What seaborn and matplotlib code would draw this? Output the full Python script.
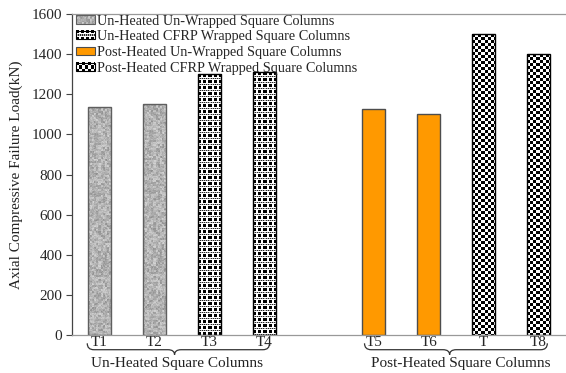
import matplotlib
matplotlib.use("Agg")
import matplotlib.pyplot as plt
import matplotlib.transforms as mtransforms
from matplotlib.patches import Patch, PathPatch, Rectangle
from matplotlib.path import Path
from matplotlib.legend_handler import HandlerBase
from matplotlib.image import BboxImage
import numpy as np
import pandas as pd
import seaborn as sns

# ---- data -------------------------------------------------------------
specimens = ["T1", "T2", "T3", "T4", "T5", "T6", "T7", "T8"]
tick_labels = ["T1", "T2", "T3", "T4", "", "T5", "T6", "T", "T8"]
loads_kn = [1135, 1150, 1300, 1310, 1125, 1100, 1500, 1400]
series_names = [
    "Un-Heated Un-Wrapped Square Columns",
    "Un-Heated CFRP Wrapped Square Columns",
    "Post-Heated Un-Wrapped Square Columns",
    "Post-Heated CFRP Wrapped Square Columns",
]
specimen_series = [0, 0, 1, 1, 2, 2, 3, 3]
condition_labels = ["Un-Heated Square Columns", "Post-Heated Square Columns"]
y_ticks = [0, 200, 400, 600, 800, 1000, 1200, 1400, 1600]

# blank slot separating the two heating conditions
order = specimens[:4] + ["gap"] + specimens[4:]

df = pd.DataFrame({
    "specimen": specimens,
    "load": loads_kn,
    "series": [series_names[i] for i in specimen_series],
})


# ---- fill textures (one array cell per output pixel) -------------------
def granite(h, w):
    i, j = np.indices((h, w))
    bi, bj = i // 2, j // 2
    n = np.sin(bi * 12.9898 + bj * 78.233) * 43758.5453
    n = n - np.floor(n)
    m = np.sin(i * 39.346 + j * 11.135) * 24634.6345
    m = m - np.floor(m)
    v = 0.70 + 0.18 * (n - 0.5) + 0.10 * (m - 0.5)
    return np.dstack([v, v, v])


def plaid(h, w):
    i, j = np.indices((h, w))
    v = np.ones((h, w))
    row = i % 6
    col = j % 5
    v[(row < 3) & (col < 3)] = 0.0
    band = row == 4
    v[band] = np.where((j[band] % 2) == 0, 0.15, 0.7)
    return np.dstack([v, v, v])


def checker(h, w):
    i, j = np.indices((h, w))
    v = ((i // 3 + j // 3) % 2).astype(float)
    return np.dstack([v, v, v])


styles = {
    series_names[0]: dict(face="#b4b4b4", edge="#5f5f5f", texture=granite),
    series_names[1]: dict(face="white", edge="black", texture=plaid),
    series_names[2]: dict(face="#ff9900", edge="#4d4d4d", texture=None),
    series_names[3]: dict(face="white", edge="black", texture=checker),
}

sns.set_theme(style="white")
plt.rcParams["font.family"] = ["Liberation Serif", "DejaVu Serif"]

DPI = 100
fig = plt.figure(figsize=(5.66, 3.73), dpi=DPI)
ax = fig.add_axes([0.127, 0.102, 0.873, 0.860])

sns.barplot(
    data=df, x="specimen", y="load", hue="series", order=order,
    hue_order=series_names, dodge=False, width=0.42,
    palette=[styles[s]["face"] for s in series_names],
    legend=False, ax=ax, saturation=1,
)

ax.set_xlim(-0.5, 8.5)
ax.set_ylim(0, 1600)

for bar in list(ax.patches):
    idx = int(round(bar.get_x() + bar.get_width() / 2))
    name = order[idx]
    if name not in specimens:
        continue
    st = styles[series_names[specimen_series[specimens.index(name)]]]
    bar.set_edgecolor(st["edge"])
    bar.set_linewidth(1.0)
    if st["texture"] is None:
        bar.set_facecolor(st["face"])
        continue
    x0, y0 = bar.get_x(), bar.get_y()
    x1, y1 = x0 + bar.get_width(), y0 + bar.get_height()
    (px0, py0), (px1, py1) = ax.transData.transform([(x0, y0), (x1, y1)])
    w_px = max(int(round(px1 - px0)), 1)
    h_px = max(int(round(py1 - py0)), 1)
    ax.imshow(st["texture"](h_px, w_px), extent=(x0, x1, y0, y1),
              origin="upper", aspect="auto", interpolation="nearest",
              zorder=bar.get_zorder() + 0.05)
    bar.set_facecolor("none")
    bar.set_zorder(bar.get_zorder() + 0.1)

ax.set_xlim(-0.5, 8.5)
ax.set_ylim(0, 1600)
ax.set_yticks(y_ticks)
ax.set_yticklabels([str(v) for v in y_ticks], fontsize=11)
ax.set_xticks(range(len(order)))
ax.set_xticklabels(tick_labels, fontsize=11)
ax.tick_params(axis="x", length=0, pad=1)
ax.tick_params(axis="y", length=4, width=0.8, color="#444444", pad=3, left=True)
ax.set_xlabel("")
ax.set_ylabel("Axial Compressive Failure Load(kN)", fontsize=11,
              color="#222222", labelpad=6)

ax.spines["left"].set_color("#444444")
ax.spines["top"].set_color("#999999")
ax.spines["bottom"].set_color("#999999")
ax.spines["right"].set_visible(False)
for s in ax.spines.values():
    s.set_linewidth(0.9)


# ---- legend with textured keys ------------------------------------------
class TextureHandler(HandlerBase):
    def __init__(self, st):
        super().__init__()
        self.st = st

    def create_artists(self, legend, orig_handle, xdescent, ydescent,
                       width, height, fontsize, trans):
        box = mtransforms.Bbox.from_bounds(-xdescent, -ydescent, width, height)
        artists = []
        if self.st["texture"] is not None:
            w_px = max(int(round(width * DPI / 72)), 1)
            h_px = max(int(round(height * DPI / 72)), 1)
            img = BboxImage(mtransforms.TransformedBbox(box, trans),
                            interpolation="nearest")
            img.set_data(self.st["texture"](h_px, w_px))
            artists.append(img)
            face = "none"
        else:
            face = self.st["face"]
        rect = Rectangle((-xdescent, -ydescent), width, height,
                         facecolor=face, edgecolor=self.st["edge"],
                         linewidth=0.8, transform=trans)
        artists.append(rect)
        return artists


handles = [Patch(label=s) for s in series_names]
ax.legend(handles=handles, loc="upper left", bbox_to_anchor=(0.0, 1.012),
          frameon=False, fontsize=10.3, handlelength=1.3, handleheight=0.5,
          handletextpad=0.15, labelspacing=0.2, borderaxespad=0.2,
          borderpad=0.1,
          handler_map={h: TextureHandler(styles[h.get_label()]) for h in handles})

# ---- group braces below the tick labels -------------------------------------
trans = mtransforms.blended_transform_factory(ax.transData, ax.transAxes)


def brace(x0, x1, xm, y_hook=-0.026, y_line=-0.046, y_tip=-0.062):
    d = 0.12
    verts = [
        (x0, y_hook), (x0, y_line), (x0 + d, y_line),
        (xm - d, y_line), (xm, y_line), (xm, y_tip),
        (xm, y_line), (xm + d, y_line),
        (x1 - d, y_line), (x1, y_line), (x1, y_hook),
    ]
    codes = [
        Path.MOVETO, Path.CURVE3, Path.CURVE3,
        Path.LINETO, Path.CURVE3, Path.CURVE3,
        Path.CURVE3, Path.CURVE3,
        Path.LINETO, Path.CURVE3, Path.CURVE3,
    ]
    ax.add_patch(PathPatch(Path(verts, codes), transform=trans, fill=False,
                           edgecolor="#333333", linewidth=0.9, clip_on=False))


brace(-0.22, 3.10, 1.37)
brace(4.83, 8.16, 6.38)
ax.text(1.42, -0.09, condition_labels[0], transform=trans, ha="center",
        va="center", fontsize=11, color="#222222")
ax.text(6.58, -0.09, condition_labels[1], transform=trans, ha="center",
        va="center", fontsize=11, color="#222222")

fig.savefig("out.png", dpi=DPI)
